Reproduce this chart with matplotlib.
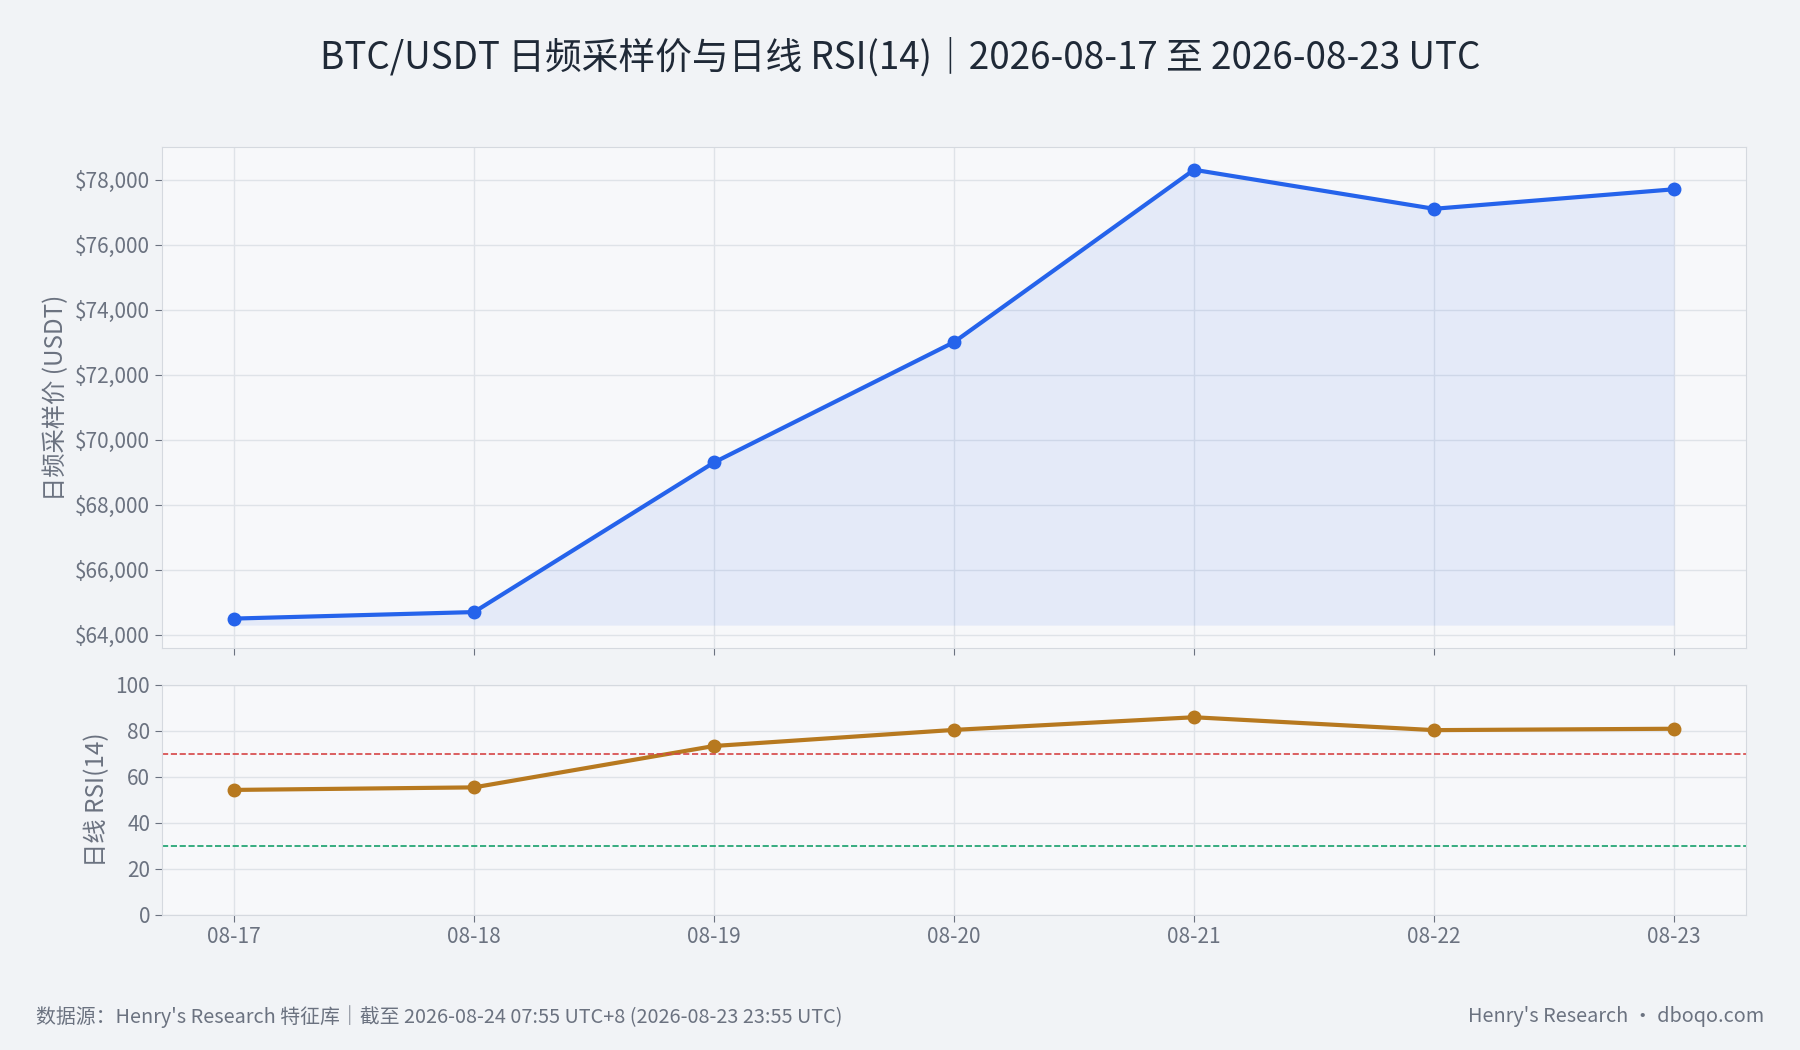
import matplotlib.pyplot as plt
import numpy as np

plt.rcParams['font.family'] = ['Noto Sans CJK SC', 'DejaVu Sans']

dates = ['08-17', '08-18', '08-19', '08-20', '08-21', '08-22', '08-23']
price = [64500, 64700, 69300, 73000, 78300, 77100, 77700]
rsi = [54.2, 55.3, 73.3, 80.3, 85.8, 80.2, 80.8]
price_ticks = [64000, 66000, 68000, 70000, 72000, 74000, 76000, 78000]
rsi_ticks = [0, 20, 40, 60, 80, 100]

bg = '#f1f3f6'
axbg = '#f7f8fa'
grid = '#dfe3e8'
tick_c = '#6b7280'

fig = plt.figure(figsize=(18, 10.5), dpi=100, facecolor=bg)
ax1 = fig.add_axes([0.09, 0.383, 0.88, 0.477], facecolor=axbg)
ax2 = fig.add_axes([0.09, 0.129, 0.88, 0.219], facecolor=axbg, sharex=ax1)
x = np.arange(len(dates))

ax1.fill_between(x, price, 64300, color='#2563eb', alpha=0.09, lw=0)
ax1.plot(x, price, color='#2563eb', lw=3, marker='o', ms=9)
ax1.set_ylim(63600, 79000)
ax1.set_yticks(price_ticks)
ax1.set_yticklabels([f'${v:,}' for v in price_ticks])
ax1.set_ylabel('日频采样价 (USDT)', fontsize=17.5, color=tick_c)

ax2.plot(x, rsi, color='#b7791f', lw=3, marker='o', ms=9)
ax2.axhline(70, color='#d64545', ls='--', lw=1.2)
ax2.axhline(30, color='#16a06a', ls='--', lw=1.2)
ax2.set_ylim(0, 100)
ax2.set_yticks(rsi_ticks)
ax2.set_ylabel('日线 RSI(14)', fontsize=17.5, color=tick_c)
ax2.set_xticks(x)
ax2.set_xticklabels(dates)
ax1.set_xlim(-0.3, 6.3)
plt.setp(ax1.get_xticklabels(), visible=False)

for ax in (ax1, ax2):
    ax.grid(True, color=grid, lw=1)
    ax.set_axisbelow(True)
    for s in ax.spines.values():
        s.set_color('#d5d9df')
    ax.tick_params(colors=tick_c, labelsize=15, length=5)

fig.text(0.5, 0.945, 'BTC/USDT 日频采样价与日线 RSI(14)｜2026-08-17 至 2026-08-23 UTC',
         ha='center', va='center', fontsize=26.5, color='#1f2937')
fig.text(0.02, 0.032, "数据源：Henry's Research 特征库｜截至 2026-08-24 07:55 UTC+8 (2026-08-23 23:55 UTC)",
         ha='left', va='center', fontsize=14.3, color=tick_c)
fig.text(0.98, 0.032, "Henry's Research · dboqo.com",
         ha='right', va='center', fontsize=14.3, color=tick_c)

fig.savefig('out.png', dpi=100, facecolor=bg)
